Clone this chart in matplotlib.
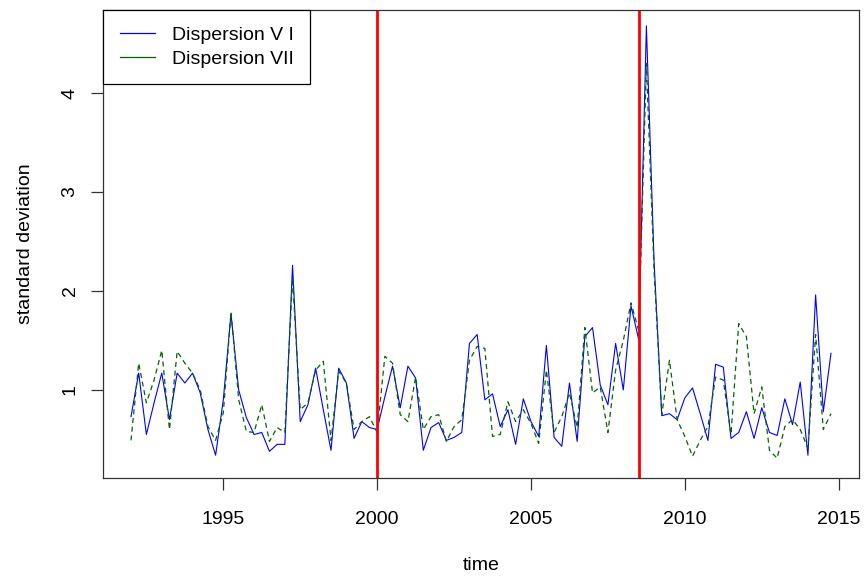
import numpy as np
import matplotlib
matplotlib.use('Agg')
import matplotlib.pyplot as plt

# quarterly series, 1992 Q1 .. 2014 Q4
start_year = 1992
dispersion_v1 = [
    0.73, 1.17, 0.55, 0.87, 1.17, 0.70, 1.17, 1.07, 1.17, 0.97,
    0.60, 0.34, 0.90, 1.77, 1.00, 0.72, 0.55, 0.57, 0.38, 0.45,
    0.45, 2.26, 0.68, 0.85, 1.22, 0.80, 0.39, 1.22, 1.07, 0.51,
    0.68, 0.62, 0.60, 0.93, 1.24, 0.82, 1.24, 1.12, 0.39, 0.62,
    0.67, 0.49, 0.52, 0.57, 1.47, 1.56, 0.90, 0.96, 0.63, 0.80,
    0.45, 0.91, 0.68, 0.53, 1.45, 0.52, 0.43, 1.07, 0.48, 1.54,
    1.63, 1.05, 0.85, 1.47, 1.00, 1.85, 1.51, 4.68, 2.30, 0.74,
    0.76, 0.70, 0.92, 1.02, 0.76, 0.49, 1.26, 1.23, 0.51, 0.57,
    0.78, 0.51, 0.82, 0.57, 0.54, 0.91, 0.65, 1.08, 0.34, 1.96,
    0.78, 1.37,
]
dispersion_v2 = [
    0.49, 1.27, 0.87, 1.10, 1.40, 0.60, 1.39, 1.27, 1.17, 1.00,
    0.63, 0.49, 0.77, 1.79, 0.90, 0.58, 0.57, 0.85, 0.48, 0.62,
    0.57, 2.13, 0.80, 0.87, 1.20, 1.29, 0.49, 1.19, 1.07, 0.60,
    0.68, 0.73, 0.57, 1.34, 1.27, 0.75, 0.68, 1.13, 0.60, 0.73,
    0.75, 0.48, 0.63, 0.70, 1.30, 1.44, 1.42, 0.53, 0.55, 0.88,
    0.68, 0.80, 0.66, 0.46, 1.20, 0.57, 0.73, 0.97, 0.62, 1.63,
    0.97, 1.03, 0.57, 1.20, 1.50, 1.88, 1.60, 4.30, 2.20, 0.75,
    1.30, 0.70, 0.53, 0.33, 0.49, 0.63, 1.13, 1.10, 0.55, 1.67,
    1.54, 0.76, 1.03, 0.39, 0.31, 0.63, 0.70, 0.60, 0.41, 1.56,
    0.60, 0.76,
]
break_years = [2000, 2008.5]
x_ticks = [1995, 2000, 2005, 2010, 2015]
y_ticks = [1, 2, 3, 4]
labels = ['Dispersion V I', 'Dispersion VII']

plt.rcParams['font.family'] = ['Liberation Sans', 'DejaVu Sans']
fs = 14

t = start_year + np.arange(len(dispersion_v1)) / 4.0

fig = plt.figure(figsize=(8.64, 5.77), dpi=100)
ax = fig.add_axes([103/864, 1 - 478/577, (859 - 103)/864, (478 - 10)/577])

ax.plot(t, dispersion_v1, color='#0000FF', lw=0.8)
ax.plot(t, dispersion_v2, color='#006400', lw=0.9, linestyle=(0, (4, 3)))
for b in break_years:
    ax.axvline(b, color='#FF0000', lw=2)

ax.set_xlim(1991.09, 2015.66)
ax.set_ylim(0.11, 4.84)
ax.set_xticks(x_ticks)
ax.set_yticks(y_ticks)
ax.tick_params(direction='out', length=8.5, width=0.9, labelsize=fs,
               color='#333333')
ax.tick_params(axis='x', pad=15)
ax.tick_params(axis='y', pad=9)
for lab in ax.get_yticklabels():
    lab.set_rotation(90)
    lab.set_va('center')
for s in ax.spines.values():
    s.set_linewidth(0.9)
    s.set_color('#333333')

ax.set_xlabel('time', fontsize=fs, labelpad=21)
ax.set_ylabel('standard deviation', fontsize=fs, labelpad=20)

# legend uses solid lines for both series
h1 = plt.Line2D([], [], color='#0000FF', lw=0.9)
h2 = plt.Line2D([], [], color='#006400', lw=0.9)
leg = ax.legend([h1, h2], labels, loc='upper left', bbox_to_anchor=(0, 1),
                borderaxespad=0, fancybox=False, framealpha=1,
                edgecolor='black', fontsize=fs, handlelength=1.8,
                handletextpad=0.9, labelspacing=0.3, borderpad=0.85)
leg.get_frame().set_linewidth(0.9)

fig.savefig('out.png', dpi=100)
